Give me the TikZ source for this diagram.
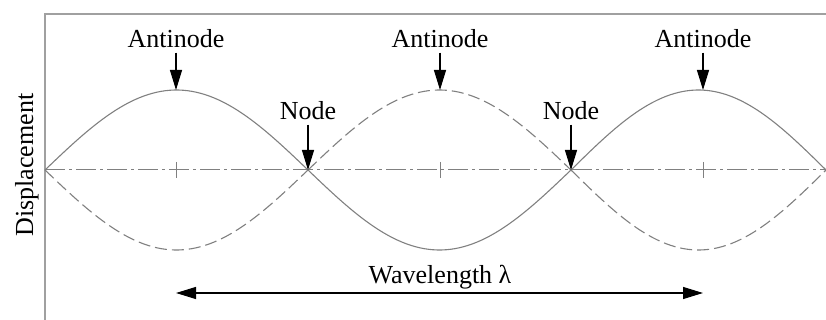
\documentclass[tikz,border=0pt]{standalone}
\usepackage{fontspec}
\setmainfont{Liberation Serif}
\usetikzlibrary{arrows.meta}
\definecolor{wgray}{HTML}{808080}
\definecolor{fgray}{HTML}{A0A0A0}

\begin{document}
\begin{tikzpicture}[x=0.5pt, y=-0.5pt,
      lbl/.style={font=\fontsize{13}{15}\selectfont, inner sep=2pt, anchor=base},
      pin/.style={-{Triangle[length=10pt, width=6pt]}, line width=0.6pt},
      solidwave/.style={wgray, line width=0.55pt},
      dashwave/.style={wgray, line width=0.55pt, dash pattern=on 6pt off 2.5pt},
      axisline/.style={wgray, line width=0.5pt, dash pattern=on 10pt off 2pt on 1.5pt off 2pt}]
    \useasboundingbox (0,0) rectangle (826,320);
    % frame
    \draw[fgray, line width=0.8pt] (45,320) -- (45,14) -- (826,14);
    \draw[axisline] (45,170) -- (826,170);
    % the two extreme positions of the string
    \foreach \a/\b/\s in {45/308/1, 308/571/-1, 571/826/1} {
      \draw[solidwave] plot[domain=\a:\b, samples=60] (\x, {170-\s*80*sin((\x-\a)/(\b-\a)*180)});
      \draw[dashwave] plot[domain=\a:\b, samples=60] (\x, {170+\s*80*sin((\x-\a)/(\b-\a)*180)});
    }
    \foreach \t in {176,440,703} \draw[wgray, line width=0.5pt] (\t,162) -- (\t,178);
    % antinodes
    \coordinate (pk1) at (176,90);
    \coordinate (pk2) at (440,90);
    \coordinate (pk3) at (703,90);
    \node[lbl] (an1) at (176,48) {Antinode};
    \node[lbl] (an2) at (440,48) {Antinode};
    \node[lbl] (an3) at (703,48) {Antinode};
    \draw[pin] (an1) -- (pk1);
    \draw[pin] (an2) -- (pk2);
    \draw[pin] (an3) -- (pk3);
    % nodes
    \coordinate (nd1) at (308,170);
    \coordinate (nd2) at (571,170);
    \node[lbl] (nl1) at (308,120) {Node};
    \node[lbl] (nl2) at (571,120) {Node};
    \draw[pin] (nl1) -- (nd1);
    \draw[pin] (nl2) -- (nd2);
    % wavelength
    \coordinate (wl1) at (176,293);
    \coordinate (wl2) at (703,293);
    \node[lbl] (wl) at (440,284) {Wavelength λ};
    \draw[pin, {Triangle[length=10pt, width=6pt]}-{Triangle[length=10pt, width=6pt]}] (wl1) -- (wl2);
    \node[lbl, rotate=90] (disp) at (33,165) {Displacement};
\end{tikzpicture}
\end{document}
